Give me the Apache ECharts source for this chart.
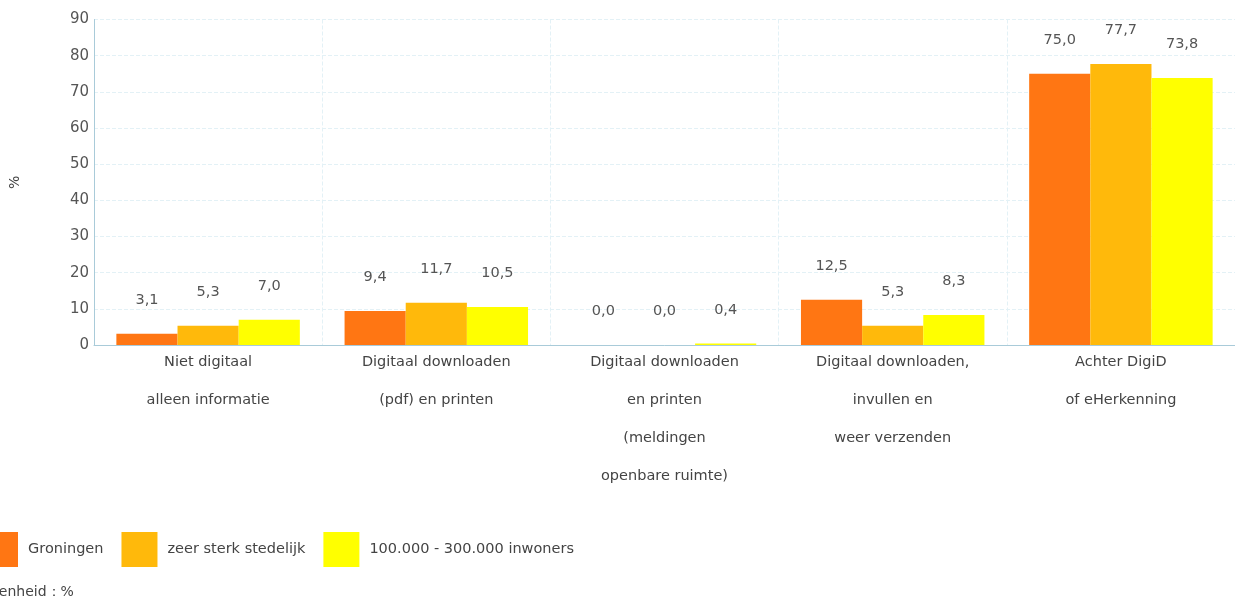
<!DOCTYPE html>
<html>
<head>
<meta charset="utf-8">
<title>Digitaal aanbod</title>
<script src="https://cdn.jsdelivr.net/npm/echarts@6/dist/echarts.min.js"></script>
<style>
  html, body { margin: 0; padding: 0; background: #fff; }
  #chart { width: 1235px; height: 603px; }
</style>
</head>
<body>
<div id="chart"></div>
<script>
// categories and values
var categories = [
  'Niet digitaal\nalleen informatie',
  'Digitaal downloaden\n(pdf) en printen',
  'Digitaal downloaden\nen printen\n(meldingen\nopenbare ruimte)',
  'Digitaal downloaden,\ninvullen en\nweer verzenden',
  'Achter DigiD\nof eHerkenning'
]
var seriesNames = ['Groningen', 'zeer sterk stedelijk', '100.000 - 300.000 inwoners']
var groningen = [3.1, 9.4, 0.0, 12.5, 75.0]
var zeerSterkStedelijk = [5.3, 11.7, 0.0, 5.3, 77.7]
var inwoners100k300k = [7.0, 10.5, 0.4, 8.3, 73.8]
var colors = ['#ff7613', '#ffb90b', '#ffff00']

var font = '"DejaVu Sans", "Noto Sans", sans-serif'

function fmt(p) {
  return p.value.toFixed(1).replace('.', ',')
}

function barSeries(name, data, color) {
  return {
    name: name,
    type: 'bar',
    data: data,
    barGap: 0,
    barCategoryGap: '19.6%',
    itemStyle: { color: color },
    label: {
      show: true,
      position: 'top',
      distance: 26,
      formatter: fmt,
      color: '#555',
      fontSize: 14.5,
      fontFamily: font
    }
  }
}

var chart = echarts.init(document.getElementById('chart'))
chart.setOption({
  animation: false,
  textStyle: { fontFamily: font },
  grid: { left: 91.5, top: 19.5, width: 1145, height: 325.5, containLabel: false },
  legend: {
    left: -18,
    top: 532,
    padding: 0,
    itemWidth: 36,
    itemHeight: 35,
    itemGap: 18,
    icon: 'rect',
    data: seriesNames,
    textStyle: { color: '#444', fontSize: 14.5, fontFamily: font, padding: [0, 0, 0, 5] }
  },
  xAxis: {
    type: 'category',
    data: categories,
    axisLine: { lineStyle: { color: '#a9cbd9', width: 1 } },
    axisTick: { show: false },
    axisLabel: {
      color: '#444',
      fontSize: 14.5,
      lineHeight: 38,
      margin: -2,
      fontFamily: font,
      interval: 0
    },
    splitLine: { show: true, lineStyle: { color: '#e3f1f6', type: 'dashed' } }
  },
  yAxis: {
    type: 'value',
    min: 0,
    max: 90,
    interval: 10,
    name: '%',
    nameLocation: 'middle',
    nameRotate: 90,
    nameGap: 72,
    nameTextStyle: { color: '#444', fontSize: 14, fontFamily: font },
    axisLine: { show: true, lineStyle: { color: '#a9cbd9', width: 1 } },
    axisTick: { show: false },
    axisLabel: { color: '#555', fontSize: 15, margin: 5, fontFamily: font },
    splitLine: { lineStyle: { color: '#e3f1f6', type: 'dashed' } }
  },
  graphic: [{
    type: 'text',
    left: -10,
    top: 585,
    style: { text: 'Eenheid：%', fill: '#444', font: '14px ' + font }
  }],
  series: [
    barSeries(seriesNames[0], groningen, colors[0]),
    barSeries(seriesNames[1], zeerSterkStedelijk, colors[1]),
    barSeries(seriesNames[2], inwoners100k300k, colors[2])
  ]
})
</script>
</body>
</html>
